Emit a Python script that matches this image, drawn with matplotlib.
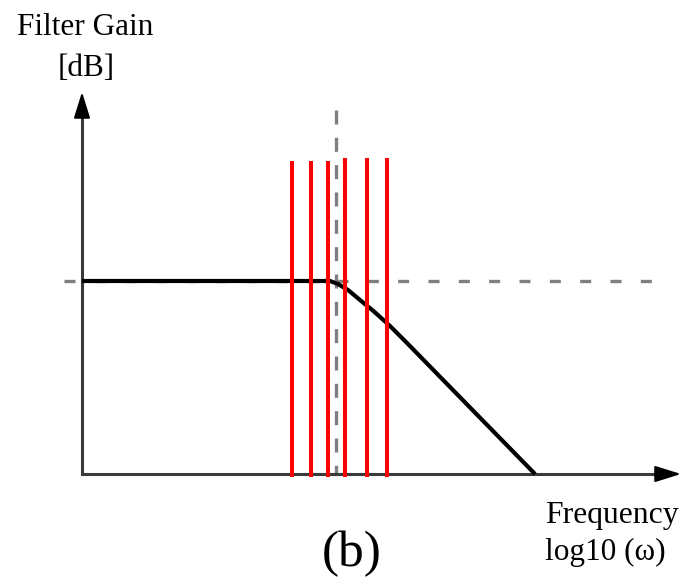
import matplotlib
matplotlib.use("Agg")
import matplotlib.pyplot as plt

# Data (in the drawing's own coordinate units)
curve_x = [82, 330, 338, 348, 360, 374, 390, 407, 535]
curve_y = [281, 281, 284, 290, 300, 311.5, 326, 343, 474]
red_x = [292, 311, 328, 345, 367, 387]
red_top = [161, 161, 161, 158, 158, 158]
red_bottom = 477
cutoff_x = 336
passband_y = 281
ylabel_lines = ["Filter Gain", "[dB]"]
xlabel_lines = ["Frequency", "log10 (ω)"]
panel_label = "(b)"

fig = plt.figure(figsize=(6.88, 5.77), dpi=100)
ax = fig.add_axes([0, 0, 1, 1])
ax.set_xlim(0, 688)
ax.set_ylim(577, 0)
ax.axis("off")

serif = ["Liberation Serif", "DejaVu Serif"]

# dashed reference lines
ax.plot([64, 656], [passband_y, passband_y], color="#7f7f7f", lw=2.4,
        dashes=(3.3, 5.8), zorder=2)
ax.plot([cutoff_x, cutoff_x], [110, 474], color="#7f7f7f", lw=2.4,
        dashes=(4.2, 4.0), zorder=2)

# axes with arrows
ax.plot([82, 82], [474, 112], color="#3a3a3a", lw=2.2, zorder=3)
ax.plot([82, 660], [474, 474], color="#3a3a3a", lw=2.2, zorder=3)
ax.annotate("", xy=(82, 92), xytext=(82, 116),
            arrowprops=dict(arrowstyle="-|>,head_length=1.6,head_width=0.5",
                            color="black", lw=1.5, shrinkA=0, shrinkB=0), zorder=4)
ax.annotate("", xy=(681, 474), xytext=(655, 474),
            arrowprops=dict(arrowstyle="-|>,head_length=1.6,head_width=0.5",
                            color="black", lw=1.5, shrinkA=0, shrinkB=0), zorder=4)

# filter response
ax.plot(curve_x, curve_y, color="black", lw=3.0, solid_capstyle="butt",
        solid_joinstyle="round", zorder=5)

# red lines
for x, t in zip(red_x, red_top):
    ax.plot([x, x], [red_bottom, t], color="#ff0000", lw=2.9,
            solid_capstyle="butt", zorder=6)

# texts
ax.text(85, 35, ylabel_lines[0], family=serif, fontsize=22.5,
        ha="center", va="baseline", color="black")
ax.text(86, 76, ylabel_lines[1], family=serif, fontsize=22.5,
        ha="center", va="baseline", color="black")
ax.text(545, 523, xlabel_lines[0], family=serif, fontsize=22.8,
        ha="left", va="baseline", color="black")
ax.text(545, 560, xlabel_lines[1], family=serif, fontsize=22.5,
        ha="left", va="baseline", color="black")
ax.text(352, 566, panel_label, family=serif, fontsize=37,
        ha="center", va="baseline", color="black")

fig.savefig("out.png", dpi=100)
